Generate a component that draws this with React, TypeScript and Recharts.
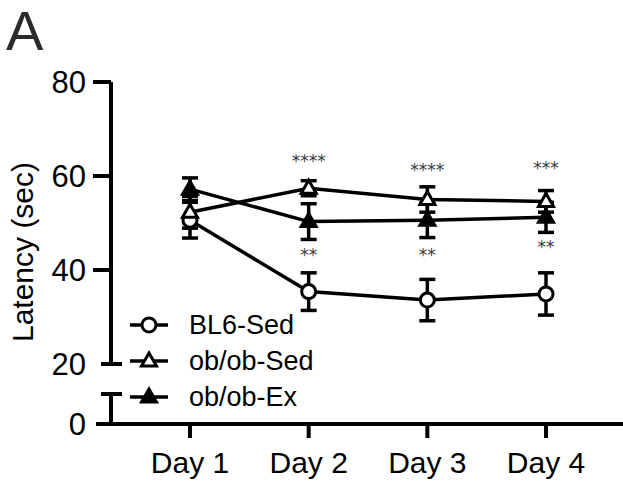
import React from 'react';
import { LineChart, Line, XAxis, YAxis, ErrorBar, Legend, ReferenceDot } from 'recharts';

const days = ['Day 1', 'Day 2', 'Day 3', 'Day 4'];
const bl6Sed = [50.6, 35.4, 33.6, 34.9];
const bl6SedSem = [3.8, 4.0, 4.4, 4.5];
const obSed = [52.3, 57.4, 55.0, 54.6];
const obSedSem = [3.4, 1.6, 2.7, 2.3];
const obEx = [57.2, 50.3, 50.6, 51.2];
const obExSem = [2.4, 3.8, 3.7, 3.2];
const upperTicks = [20, 40, 60, 80];
const lowerTicks = [0, 10];
const sigUpper = ['', '****', '****', '***'];
const sigUpperY = [0, 63.8, 62.0, 62.3];
const sigLower = ['', '**', '**', '**'];
const sigLowerY = [0, 43.9, 43.8, 45.5];

const data = days.map((d, i) => ({
  day: d,
  bl6: bl6Sed[i],
  bl6Err: bl6SedSem[i],
  obSed: obSed[i],
  obSedErr: obSedSem[i],
  obEx: obEx[i],
  obExErr: obExSem[i],
}));

const FONT = '"Liberation Sans", Arial, sans-serif';
const W = 623;
const H = 486;
const XPAD = { left: 79, right: 77 };

const Marker = ({ cx, cy, kind }: any) => {
  if (cx == null || cy == null) return null;
  if (kind === 'circle') {
    return <circle cx={cx} cy={cy} r={7} fill="#fff" stroke="#000" strokeWidth={3} />;
  }
  const pts = `${cx},${cy - 8} ${cx + 7.5},${cy + 5} ${cx - 7.5},${cy + 5}`;
  return (
    <polygon
      points={pts}
      fill={kind === 'filled' ? '#000' : '#fff'}
      stroke="#000"
      strokeWidth={3}
      strokeLinejoin="miter"
    />
  );
};

const series = [
  { key: 'bl6', err: 'bl6Err', name: 'BL6-Sed', kind: 'circle' },
  { key: 'obSed', err: 'obSedErr', name: 'ob/ob-Sed', kind: 'open' },
  { key: 'obEx', err: 'obExErr', name: 'ob/ob-Ex', kind: 'filled' },
];

const capped = new Set([20, 10]);

const YTick = (props: any) => {
  const { x, y, payload } = props;
  const v = payload.value;
  let line;
  if (capped.has(v)) {
    line = <line x1={x - 10} x2={x + 11} y1={y} y2={y} stroke="#000" strokeWidth={4} />;
  } else {
    const len = v === 0 ? 15 : 18;
    line = <line x1={x - len} x2={x} y1={y} y2={y} stroke="#000" strokeWidth={4} />;
  }
  return (
    <g>
      {line}
      {v !== 10 && (
        <text x={x - 25} y={y} dy="0.36em" textAnchor="end" fontSize={31} fontFamily={FONT} fill="#000">
          {v}
        </text>
      )}
    </g>
  );
};

const renderLegend = () => (
  <div style={{ fontFamily: FONT, fontSize: 27, color: '#000' }}>
    {series.map((s) => (
      <div key={s.key} style={{ display: 'flex', alignItems: 'center', height: 36, lineHeight: '36px' }}>
        <svg width={40} height={24} style={{ display: 'block' }}>
          <line x1={1} x2={39} y1={12} y2={12} stroke="#000" strokeWidth={3.5} />
          <Marker cx={20} cy={12} kind={s.kind} />
        </svg>
        <span style={{ marginLeft: 20, whiteSpace: 'nowrap' }}>{s.name}</span>
      </div>
    ))}
  </div>
);

const YLabel = (p: any) => {
  const vb = p.viewBox || { x: 0, y: 82, width: 111, height: 282 };
  return (
    <text
      transform={`translate(${vb.x + 33},${vb.y + vb.height / 2 + 29}) rotate(-90)`}
      textAnchor="middle"
      fontSize={30}
      fontFamily={FONT}
      fill="#000"
    >
      Latency (sec)
    </text>
  );
};

const sigLabel = (value: string) => ({
  value,
  position: 'center' as const,
  fill: '#3a3a3a',
  fontSize: 17,
  fontFamily: '"DejaVu Sans"',
  dy: 3,
});

export default function App() {
  return (
    <div style={{ position: 'absolute', left: 0, top: 0, width: W, height: H, background: '#fff' }}>
      <svg width={W} height={H} style={{ position: 'absolute', left: 0, top: 0 }}>
        <text x={6} y={50} fontSize={56} fontFamily={FONT} fill="#2b2b2b">
          A
        </text>
      </svg>
      <div style={{ position: 'absolute', left: 0, top: 0 }}>
        <LineChart width={W} height={H} data={data} margin={{ top: 394, right: 0, bottom: 0, left: 0 }}>
          <XAxis
            dataKey="day"
            scale="point"
            padding={XPAD}
            height={62}
            interval={0}
            tickSize={14}
            tickMargin={14}
            axisLine={{ stroke: '#000', strokeWidth: 4 }}
            tickLine={{ stroke: '#000', strokeWidth: 4 }}
            tick={{ fill: '#000', fontSize: 30, fontFamily: FONT }}
          />
          <YAxis
            type="number"
            domain={[0, 10]}
            allowDataOverflow
            ticks={lowerTicks}
            width={111}
            tickSize={0}
            tickMargin={0}
            tickLine={false}
            axisLine={{ stroke: '#000', strokeWidth: 4 }}
            tick={<YTick />}
            interval={0}
          />
          <Line dataKey="bl6" stroke="none" dot={false} activeDot={false} isAnimationActive={false} legendType="none" />
        </LineChart>
      </div>
      <div style={{ position: 'absolute', left: 0, top: 0 }}>
        <LineChart width={W} height={H} data={data} margin={{ top: 82, right: 0, bottom: 122, left: 0 }}>
          <XAxis dataKey="day" scale="point" padding={XPAD} hide />
          <YAxis
            domain={[20, 80]}
            ticks={upperTicks}
            width={111}
            tickSize={0}
            tickMargin={0}
            tickLine={false}
            axisLine={{ stroke: '#000', strokeWidth: 4 }}
            tick={<YTick />}
            interval={0}
            label={{ value: 'Latency (sec)', content: YLabel }}
          />
          {series.map((s) => (
            <Line
              key={s.key}
              dataKey={s.key}
              name={s.name}
              stroke="#000"
              strokeWidth={3.5}
              isAnimationActive={false}
              dot={(p: any) => <Marker key={`${s.key}-${p.index}`} cx={p.cx} cy={p.cy} kind={s.kind} />}
              activeDot={false}
            >
              <ErrorBar dataKey={s.err} direction="y" width={8} strokeWidth={3.5} stroke="#000" isAnimationActive={false} />
            </Line>
          ))}
          {days.map((d, i) =>
            sigUpper[i] ? (
              <ReferenceDot key={`su-${i}`} x={d} y={sigUpperY[i]} r={0} fill="none" stroke="none" label={sigLabel(sigUpper[i])} />
            ) : null
          )}
          {days.map((d, i) =>
            sigLower[i] ? (
              <ReferenceDot key={`sl-${i}`} x={d} y={sigLowerY[i]} r={0} fill="none" stroke="none" label={sigLabel(sigLower[i])} />
            ) : null
          )}
          <Legend
            layout="vertical"
            align="center"
            verticalAlign="middle"
            wrapperStyle={{ left: 129, top: 307, width: 230, height: 110 }}
            content={renderLegend}
          />
        </LineChart>
      </div>
    </div>
  );
}
